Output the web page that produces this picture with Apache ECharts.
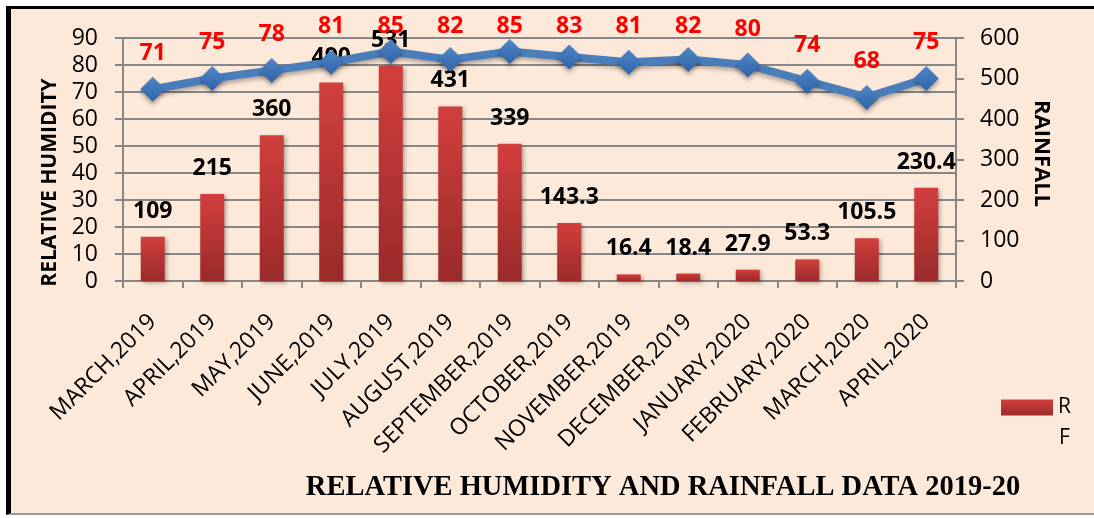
<!DOCTYPE html>
<html>
<head>
<meta charset="utf-8">
<script src="https://cdn.jsdelivr.net/npm/echarts@6/dist/echarts.min.js"></script>
<style>
html,body{margin:0;padding:0;background:#fff;}
#frame{position:absolute;left:6px;top:6px;width:1088px;height:509px;box-sizing:border-box;background:#FDE9D9;border-left:5px solid #000;border-top:3px solid #000;border-bottom:2px solid #9a9a9a;}
#chart{position:absolute;left:0;top:0;width:1094px;height:518px;}
</style>
</head>
<body>
<div id="frame"></div>
<div id="chart"></div>
<script>
const categories = ['MARCH,2019','APRIL,2019','MAY,2019','JUNE,2019','JULY,2019','AUGUST,2019','SEPTEMBER,2019','OCTOBER,2019','NOVEMBER,2019','DECEMBER,2019','JANUARY,2020','FEBRUARY,2020','MARCH,2020','APRIL,2020'];
const rainfall = [109, 215, 360, 490, 531, 431, 339, 143.3, 16.4, 18.4, 27.9, 53.3, 105.5, 230.4];
const humidity = [71, 75, 78, 81, 85, 82, 85, 83, 81, 82, 80, 74, 68, 75];
const humidityTicks = {min: 0, max: 90, interval: 10};
const rainfallTicks = {min: 0, max: 600, interval: 100};
const titleText = 'RELATIVE HUMIDITY AND RAINFALL DATA 2019-20';

const chart = echarts.init(document.getElementById('chart'));
const gray = '#878787';
const font = '"Open Sans", sans-serif';
chart.setOption({
  backgroundColor: 'transparent',
  animation: false,
  title: {
    text: titleText, left: 658, top: 468, textAlign: 'center',
    textStyle: {fontFamily: '"Liberation Serif", serif', fontWeight: 'bold', fontSize: 28.5, color: '#000'}
  },
  legend: {
    data: ['RF'], left: 1001, top: 397, padding: 0, icon: 'rect', itemWidth: 52, itemHeight: 16, itemGap: 6,
    formatter: function () { return 'R'; },
    textStyle: {fontFamily: font, fontSize: 21, color: '#000'}
  },
  graphic: [{
    type: 'text', left: 1059, top: 428,
    style: {text: 'F', font: '21px "Open Sans", sans-serif', fill: '#000'}
  }],
  grid: {left: 123, right: 138, top: 38, bottom: 237},
  xAxis: {
    type: 'category', data: categories, boundaryGap: true,
    axisLine: {lineStyle: {color: gray, width: 2}},
    axisTick: {show: true, interval: 0, length: 7, lineStyle: {color: gray, width: 2}},
    axisLabel: {interval: 0, rotate: 45, margin: 37, fontFamily: font, fontSize: 23, color: '#000'}
  },
  yAxis: [{
    type: 'value', min: humidityTicks.min, max: humidityTicks.max, interval: humidityTicks.interval,
    name: 'RELATIVE HUMIDITY', nameLocation: 'middle', nameGap: 57, nameRotate: 90,
    nameTextStyle: {fontFamily: font, fontWeight: 'bold', fontSize: 21, color: '#000', padding: [0, 46, 0, 0]},
    axisLine: {show: true, lineStyle: {color: gray, width: 2}},
    axisTick: {show: true, length: 8, lineStyle: {color: gray, width: 2}},
    axisLabel: {margin: 25, fontFamily: font, fontSize: 23, color: '#000'},
    splitLine: {show: true, lineStyle: {color: gray, width: 2}}
  }, {
    type: 'value', min: rainfallTicks.min, max: rainfallTicks.max, interval: rainfallTicks.interval,
    name: 'RAINFALL', nameLocation: 'middle', nameGap: 63, nameRotate: -90,
    nameTextStyle: {fontFamily: font, fontWeight: 'bold', fontSize: 22, color: '#000', padding: [0, 12, 0, 0]},
    axisLine: {show: true, lineStyle: {color: gray, width: 2}},
    axisTick: {show: true, length: 8, lineStyle: {color: gray, width: 2}},
    axisLabel: {margin: 24, fontFamily: font, fontSize: 23, color: '#000'},
    splitLine: {show: false}
  }],
  series: [{
    name: 'RF', type: 'bar', yAxisIndex: 1, data: rainfall, barWidth: 24,
    itemStyle: {
      color: new echarts.graphic.LinearGradient(0, 0, 0, 1, [
        {offset: 0, color: '#d23f3d'}, {offset: 1, color: '#9a2a2a'}
      ]),
      shadowBlur: 4, shadowColor: 'rgba(0,0,0,0.3)', shadowOffsetX: 2, shadowOffsetY: 2
    },
    label: {show: true, position: 'top', distance: 14, fontFamily: font, fontWeight: 'bold', fontSize: 23, color: '#000'}
  }, {
    name: 'RH', type: 'line', yAxisIndex: 0, data: humidity,
    symbol: 'diamond', symbolSize: 25, z: 3,
    lineStyle: {color: '#4a7ebb', width: 8, shadowBlur: 4, shadowColor: 'rgba(0,0,0,0.3)', shadowOffsetY: 3},
    itemStyle: {
      color: new echarts.graphic.LinearGradient(0, 0, 0, 1, [
        {offset: 0, color: '#4f86c6'}, {offset: 1, color: '#2f64a8'}
      ]),
      shadowBlur: 4, shadowColor: 'rgba(0,0,0,0.35)', shadowOffsetY: 3
    },
    label: {show: true, position: 'top', distance: 12, fontFamily: font, fontWeight: 'bold', fontSize: 23, color: '#ff0000'},
    labelLayout: function (p) {
      const r = p.labelRect;
      return {dy: Math.max(0, 15 - r.y)};
    }
  }]
});
</script>
</body>
</html>
